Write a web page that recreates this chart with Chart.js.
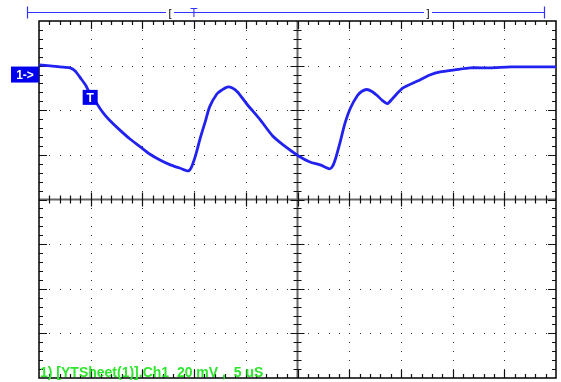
<!DOCTYPE html>
<html>
<head>
<meta charset="utf-8">
<script src="https://cdn.jsdelivr.net/npm/chart.js@4"></script>
<style>
  body { margin: 0; background: #ffffff; }
  #contenedor { width: 561px; height: 382px; }
</style>
</head>
<body>
<div id="contenedor"><canvas id="grafica"></canvas></div>
<script>
// =============================================
// DATOS (tiempo en µs, tensión en mV desde el centro)
// =============================================

const tiempos = [
  0, 1.1, 2.0, 3.0, 3.5, 4.0, 4.5, 4.9, 5.4, 5.9, 6.4, 6.9, 7.8, 8.8, 9.8,
  10.7, 11.7, 12.7, 13.6, 14.4, 14.7, 15.1, 15.6, 16.1, 16.5, 17.2, 17.7,
  18.2, 18.7, 19.2, 20.1, 21.4, 22.6, 24.0, 25.1, 26.2, 27.2, 28.1, 28.4,
  28.7, 29.1, 29.6, 30.1, 30.8, 31.2, 31.7, 32.2, 32.7, 33.2, 33.7, 34.2,
  35.2, 36.6, 37.8, 38.8, 40.2, 41.7, 43.6, 45.6, 47.5, 50
];
const voltajes = [
  60.3, 59.9, 59.4, 59.0, 57.6, 54.5, 51.3, 47.7, 44.4, 40.8, 37.7, 35.2,
  31.2, 27.1, 23.6, 20.4, 17.7, 15.5, 14.1, 12.8, 14.1, 19.1, 27.6, 35.2,
  41.5, 47.3, 49.1, 50.4, 50.0, 48.2, 42.8, 35.7, 28.5, 23.1, 19.5, 16.8,
  15.5, 13.7, 15.0, 18.6, 25.3, 34.3, 40.8, 46.6, 48.4, 49.3, 48.4, 46.6,
  44.4, 43.0, 45.3, 50.0, 53.1, 55.8, 57.2, 58.1, 59.0, 59.0, 59.4, 59.4, 59.4
];

const limitesX = [0, 50];     // 10 divisiones de 5 µs
const limitesY = [-80, 80];   // 8 divisiones de 20 mV
const divisionesX = 10;
const divisionesY = 8;
const subdivisiones = 5;

const nivelTierra = 56;       // marcador "1->"
const tiempoDisparo = 4.9;    // marcador "T"
const nivelDisparo = 46;
const etiquetaCanal = "1) [YTSheet(1)].Ch1  20 mV ,  5 uS";

const azul = "#2222f0";
const fuente = "'Liberation Sans', Arial, sans-serif";

// =============================================
// RETÍCULA DEL OSCILOSCOPIO
// =============================================

function dibujarReticula(chart) {
  const ctx = chart.ctx;
  const a = chart.chartArea;
  const dx = (a.right - a.left) / divisionesX;
  const dy = (a.bottom - a.top) / divisionesY;
  const cx = a.left + dx * divisionesX / 2;
  const cy = a.top + dy * divisionesY / 2;

  ctx.save();

  // Puntos de la rejilla
  ctx.fillStyle = "#333333";
  for (let i = 1; i < divisionesX; i++) {
    if (i === divisionesX / 2) continue;
    const x = Math.round(a.left + i * dx);
    for (let j = 1; j < divisionesY * subdivisiones; j++) {
      ctx.fillRect(x, Math.round(a.top + j * dy / subdivisiones), 1, 1);
    }
  }
  for (let j = 1; j < divisionesY; j++) {
    if (j === divisionesY / 2) continue;
    const y = Math.round(a.top + j * dy);
    for (let i = 1; i < divisionesX * subdivisiones; i++) {
      ctx.fillRect(Math.round(a.left + i * dx / subdivisiones), y, 1, 1);
    }
  }

  // Cruz central
  ctx.strokeStyle = "#666666";
  ctx.lineWidth = 2;
  ctx.beginPath();
  ctx.moveTo(a.left, cy);
  ctx.lineTo(a.right, cy);
  ctx.moveTo(cx, a.top);
  ctx.lineTo(cx, a.bottom);
  ctx.stroke();

  // Marcas de la cruz central y del borde
  ctx.strokeStyle = "#111111";
  ctx.lineWidth = 1.2;
  ctx.beginPath();
  for (let i = 1; i < divisionesX * subdivisiones; i++) {
    const x = Math.round(a.left + i * dx / subdivisiones) + 0.5;
    const mayor = i % subdivisiones === 0;
    const lc = mayor ? 7 : 4;
    const lb = mayor ? 8 : 4;
    ctx.moveTo(x, cy - lc);
    ctx.lineTo(x, cy + lc);
    ctx.moveTo(x, a.top);
    ctx.lineTo(x, a.top + lb);
    ctx.moveTo(x, a.bottom);
    ctx.lineTo(x, a.bottom - lb);
  }
  for (let j = 1; j < divisionesY * subdivisiones; j++) {
    const y = Math.round(a.top + j * dy / subdivisiones) + 0.5;
    const mayor = j % subdivisiones === 0;
    const lc = mayor ? 7 : 4;
    const lb = mayor ? 8 : 4;
    ctx.moveTo(cx - lc, y);
    ctx.lineTo(cx + lc, y);
    ctx.moveTo(a.left, y);
    ctx.lineTo(a.left + lb, y);
    ctx.moveTo(a.right, y);
    ctx.lineTo(a.right - lb, y);
  }
  ctx.stroke();

  // Borde
  ctx.strokeStyle = "#000000";
  ctx.lineWidth = 1.5;
  ctx.strokeRect(a.left, a.top, a.right - a.left, a.bottom - a.top);

  ctx.restore();
}

// =============================================
// MARCADORES Y TEXTOS
// =============================================

function cajaTexto(ctx, texto, x, y, ancho, alto) {
  ctx.fillStyle = "#0000ee";
  ctx.fillRect(x, y, ancho, alto);
  ctx.fillStyle = "#ffffff";
  ctx.font = "bold 12px " + fuente;
  ctx.textAlign = "center";
  ctx.textBaseline = "middle";
  ctx.fillText(texto, x + ancho / 2, y + alto / 2 + 1);
}

function dibujarMarcadores(chart) {
  const ctx = chart.ctx;
  const a = chart.chartArea;
  const escX = chart.scales.x;
  const escY = chart.scales.y;

  ctx.save();

  // Nivel de tierra del canal 1
  const yTierra = escY.getPixelForValue(nivelTierra);
  cajaTexto(ctx, "1->", a.left - 28, yTierra - 8, 28, 16);

  // Punto de disparo
  const xT = escX.getPixelForValue(tiempoDisparo);
  const yT = escY.getPixelForValue(nivelDisparo);
  cajaTexto(ctx, "T", xT - 7, yT - 7, 15, 15);

  // Etiqueta del canal
  ctx.fillStyle = "#2ee62e";
  ctx.font = "bold 14px " + fuente;
  ctx.textAlign = "left";
  ctx.textBaseline = "alphabetic";
  ctx.fillText(etiquetaCanal, a.left + 1, a.bottom - 1);

  // Regla superior del registro
  const yR = 12.5;
  const izq = a.left - 12;
  const der = a.right - 11;
  ctx.strokeStyle = "#3333ff";
  ctx.lineWidth = 1.2;
  ctx.beginPath();
  ctx.moveTo(izq, yR);
  ctx.lineTo(der, yR);
  ctx.moveTo(izq + 0.5, yR - 6);
  ctx.lineTo(izq + 0.5, yR + 6);
  ctx.moveTo(der - 0.5, yR - 6);
  ctx.lineTo(der - 0.5, yR + 6);
  ctx.stroke();

  ctx.font = "11px " + fuente;
  ctx.textAlign = "center";
  ctx.textBaseline = "middle";
  ctx.fillStyle = "#ffffff";
  ctx.fillRect(166, yR - 6, 8, 12);
  ctx.fillRect(424, yR - 6, 8, 12);
  ctx.fillStyle = "#000000";
  ctx.fillText("[", 170, yR + 1);
  ctx.fillText("]", 428, yR + 1);
  ctx.fillStyle = "#3333ff";
  ctx.font = "12px " + fuente;
  ctx.fillText("T", 194, yR + 1);

  ctx.restore();
}

// =============================================
// GRÁFICA
// =============================================

document.addEventListener("DOMContentLoaded", function () {
  const puntos = tiempos.map((t, i) => ({ x: t, y: voltajes[i] }));

  const plugin = {
    id: "osciloscopio",
    beforeDatasetsDraw: dibujarReticula,
    afterDatasetsDraw: dibujarMarcadores,
  };

  new Chart(document.getElementById("grafica"), {
    type: "line",
    data: {
      datasets: [
        {
          data: puntos,
          borderColor: azul,
          borderWidth: 2.8,
          pointRadius: 0,
          tension: 0.25,
        },
      ],
    },
    options: {
      animation: false,
      responsive: true,
      maintainAspectRatio: false,
      layout: { padding: { left: 39, top: 21, right: 5, bottom: 4 } },
      plugins: { legend: { display: false }, tooltip: { enabled: false } },
      scales: {
        x: { type: "linear", min: limitesX[0], max: limitesX[1], display: false },
        y: { min: limitesY[0], max: limitesY[1], display: false },
      },
    },
    plugins: [plugin],
  });
});
</script>
</body>
</html>
